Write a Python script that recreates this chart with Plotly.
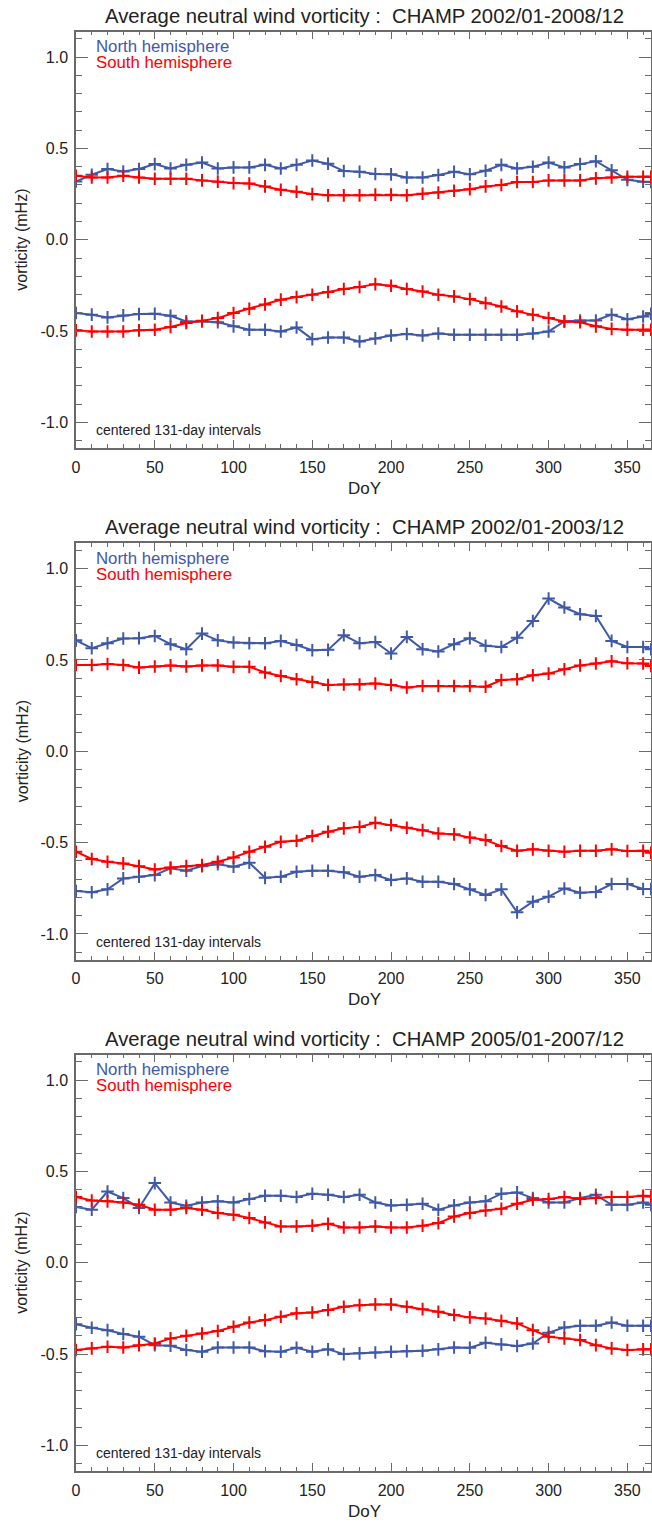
import plotly.graph_objects as go

# ---------------- data ----------------
doy = [0, 10, 20, 30, 40, 50, 60, 70, 80, 90, 100, 110, 120, 130, 140, 150, 160, 170, 180,
       190, 200, 210, 220, 230, 240, 250, 260, 270, 280, 290, 300, 310, 320, 330, 340, 350, 360, 365]

titles = ["Average neutral wind vorticity :  CHAMP 2002/01-2008/12",
          "Average neutral wind vorticity :  CHAMP 2002/01-2003/12",
          "Average neutral wind vorticity :  CHAMP 2005/01-2007/12"]

# Panel 1 (2002/01-2008/12)
p1_north_pos = [0.319, 0.356, 0.387, 0.374, 0.387, 0.414, 0.390, 0.410, 0.423, 0.390, 0.396, 0.396, 0.410,
                0.390, 0.410, 0.434, 0.416, 0.376, 0.372, 0.360, 0.358, 0.341, 0.341, 0.354, 0.372, 0.358,
                0.378, 0.410, 0.390, 0.400, 0.423, 0.396, 0.414, 0.430, 0.380, 0.328, 0.318, 0.316]
p1_south_pos = [0.350, 0.341, 0.341, 0.350, 0.341, 0.334, 0.334, 0.334, 0.325, 0.318, 0.310, 0.308, 0.292,
                0.274, 0.263, 0.250, 0.243, 0.243, 0.243, 0.247, 0.247, 0.243, 0.252, 0.258, 0.268, 0.277,
                0.292, 0.300, 0.316, 0.316, 0.325, 0.325, 0.325, 0.336, 0.341, 0.345, 0.345, 0.345]
p1_north_neg = [-0.401, -0.410, -0.425, -0.414, -0.407, -0.405, -0.416, -0.447, -0.447, -0.452, -0.474,
                -0.493, -0.493, -0.502, -0.480, -0.544, -0.535, -0.535, -0.557, -0.540, -0.524, -0.516,
                -0.524, -0.513, -0.520, -0.520, -0.520, -0.520, -0.520, -0.513, -0.502, -0.447, -0.442,
                -0.442, -0.410, -0.435, -0.420, -0.405]
p1_south_neg = [-0.496, -0.502, -0.502, -0.502, -0.496, -0.493, -0.478, -0.456, -0.443, -0.429, -0.401,
                -0.378, -0.354, -0.328, -0.314, -0.301, -0.286, -0.270, -0.259, -0.243, -0.252, -0.270,
                -0.283, -0.301, -0.310, -0.325, -0.347, -0.365, -0.392, -0.410, -0.429, -0.447, -0.452,
                -0.474, -0.488, -0.493, -0.493, -0.493]

# Panel 2 (2002/01-2003/12)
p2_north_pos = [0.607, 0.564, 0.591, 0.617, 0.619, 0.631, 0.586, 0.558, 0.644, 0.607, 0.595, 0.591, 0.591,
                0.604, 0.582, 0.553, 0.555, 0.635, 0.591, 0.598, 0.535, 0.626, 0.558, 0.546, 0.586, 0.619,
                0.577, 0.571, 0.622, 0.713, 0.836, 0.787, 0.750, 0.741, 0.604, 0.571, 0.571, 0.558]
p2_south_pos = [0.472, 0.472, 0.478, 0.472, 0.458, 0.464, 0.470, 0.464, 0.470, 0.470, 0.462, 0.462, 0.431,
                0.412, 0.394, 0.379, 0.363, 0.365, 0.365, 0.371, 0.363, 0.349, 0.357, 0.357, 0.357, 0.357,
                0.353, 0.390, 0.394, 0.416, 0.425, 0.449, 0.470, 0.480, 0.493, 0.482, 0.480, 0.467]
p2_north_neg = [-0.765, -0.772, -0.756, -0.696, -0.687, -0.678, -0.641, -0.654, -0.629, -0.618, -0.632,
                -0.610, -0.693, -0.687, -0.660, -0.654, -0.654, -0.663, -0.687, -0.678, -0.705, -0.696,
                -0.714, -0.714, -0.727, -0.756, -0.787, -0.756, -0.882, -0.824, -0.796, -0.751, -0.775,
                -0.770, -0.727, -0.727, -0.754, -0.754]
p2_south_neg = [-0.550, -0.590, -0.605, -0.614, -0.629, -0.647, -0.636, -0.629, -0.623, -0.605, -0.581,
                -0.550, -0.523, -0.496, -0.490, -0.464, -0.441, -0.422, -0.414, -0.392, -0.404, -0.419,
                -0.432, -0.450, -0.455, -0.472, -0.486, -0.519, -0.545, -0.537, -0.545, -0.550, -0.545,
                -0.545, -0.537, -0.546, -0.545, -0.556]

# Panel 3 (2005/01-2007/12)
p3_north_pos = [0.305, 0.290, 0.390, 0.354, 0.300, 0.436, 0.330, 0.312, 0.330, 0.336, 0.330, 0.349, 0.367,
                0.367, 0.360, 0.378, 0.372, 0.360, 0.372, 0.330, 0.314, 0.317, 0.323, 0.290, 0.314, 0.330,
                0.336, 0.378, 0.385, 0.354, 0.330, 0.330, 0.354, 0.372, 0.317, 0.317, 0.330, 0.317]
p3_south_pos = [0.360, 0.341, 0.336, 0.330, 0.317, 0.290, 0.290, 0.300, 0.290, 0.272, 0.263, 0.245, 0.221,
                0.199, 0.199, 0.203, 0.213, 0.193, 0.193, 0.199, 0.193, 0.193, 0.203, 0.217, 0.253, 0.272,
                0.286, 0.295, 0.323, 0.345, 0.349, 0.360, 0.349, 0.354, 0.360, 0.360, 0.367, 0.363]
p3_north_neg = [-0.336, -0.356, -0.369, -0.390, -0.405, -0.451, -0.454, -0.478, -0.487, -0.464, -0.464,
                -0.464, -0.484, -0.487, -0.465, -0.487, -0.474, -0.500, -0.496, -0.491, -0.487, -0.484,
                -0.482, -0.474, -0.464, -0.465, -0.438, -0.447, -0.456, -0.442, -0.383, -0.354, -0.345,
                -0.345, -0.327, -0.345, -0.345, -0.345]
p3_south_neg = [-0.478, -0.469, -0.460, -0.464, -0.451, -0.442, -0.414, -0.400, -0.387, -0.374, -0.350,
                -0.327, -0.314, -0.296, -0.277, -0.272, -0.259, -0.241, -0.232, -0.228, -0.228, -0.241,
                -0.254, -0.268, -0.286, -0.299, -0.305, -0.318, -0.332, -0.369, -0.405, -0.414, -0.423,
                -0.451, -0.469, -0.478, -0.474, -0.474]

panels = [
    (p1_north_pos, p1_north_neg, p1_south_pos, p1_south_neg),
    (p2_north_pos, p2_north_neg, p2_south_pos, p2_south_neg),
    (p3_north_pos, p3_north_neg, p3_south_pos, p3_south_neg),
]

x_ticks = [0, 50, 100, 150, 200, 250, 300, 350]
y_ticks = [-1.0, -0.5, 0.0, 0.5, 1.0]
y_tick_text = ["-1.0", "-0.5", "0.0", "0.5", "1.0"]

# ---------------- style ----------------
BLUE = "#3F59A8"
RED = "#FF0000"
AXC = "#6a6a6a"
TXT = "#222222"
FONT = "Liberation Sans, Arial, sans-serif"
H = 1522
W = 652
ML, MR = 76, 1
# panel pixel extents (top, bottom)
extents = [(31.5, 448.0), (543.0, 959.5), (1054.5, 1471.0)]

fig = go.Figure()
annotations = []

def py(px):
    return 1 - px / H

def pxx(px):
    return (px - ML) / (W - ML - MR)

for i, (series, (top, bot)) in enumerate(zip(panels, extents)):
    n = "" if i == 0 else str(i + 1)
    npos, nneg, spos, sneg = series
    for yvals, col in [(npos, BLUE), (nneg, BLUE), (spos, RED), (sneg, RED)]:
        fig.add_trace(go.Scatter(
            x=doy, y=yvals, mode="lines+markers", xaxis="x" + n, yaxis="y" + n,
            line=dict(color=col, width=2),
            marker=dict(symbol="cross-thin", size=9, line=dict(color=col, width=2), color=col),
            showlegend=False, hoverinfo="skip"))
    fig.layout["xaxis" + n] = dict(
        domain=[0, 1], range=[0, 365], anchor="y" + n,
        tickvals=x_ticks, ticks="inside", ticklen=8, tickwidth=1.3, tickcolor=AXC,
        showline=True, linecolor=AXC, linewidth=1.5, mirror="ticks",
        showgrid=False, zeroline=False,
        minor=dict(dtick=10, tick0=0, ticks="inside", ticklen=4, tickwidth=1.3, tickcolor=AXC, showgrid=False),
        tickfont=dict(family=FONT, size=16, color=TXT), ticklabelstandoff=4)
    fig.layout["yaxis" + n] = dict(
        domain=[py(bot), py(top)], range=[-1.14, 1.14], anchor="x" + n,
        tickvals=y_ticks, ticktext=y_tick_text, ticks="inside", ticklen=12, tickwidth=1.3, tickcolor=AXC,
        showline=True, linecolor=AXC, linewidth=1.5, mirror="ticks",
        showgrid=False, zeroline=False,
        minor=dict(dtick=0.1, tick0=0, ticks="inside", ticklen=6, tickwidth=1.3, tickcolor=AXC, showgrid=False),
        tickfont=dict(family=FONT, size=16, color=TXT), ticklabelstandoff=3)

    annotations += [
        dict(text=titles[i], xref="paper", yref="paper", x=pxx(364), y=py(top - 16),
             xanchor="center", yanchor="middle", showarrow=False,
             font=dict(family=FONT, size=20.3, color=TXT)),
        dict(text="North hemisphere", xref="paper", yref="paper", x=pxx(94), y=py(top + 15),
             xanchor="left", yanchor="middle", showarrow=False,
             font=dict(family=FONT, size=16.8, color=BLUE)),
        dict(text="South hemisphere", xref="paper", yref="paper", x=pxx(94), y=py(top + 31),
             xanchor="left", yanchor="middle", showarrow=False,
             font=dict(family=FONT, size=16.8, color=RED)),
        dict(text="centered 131-day intervals", xref="paper", yref="paper", x=pxx(94), y=py(bot - 18),
             xanchor="left", yanchor="middle", showarrow=False,
             font=dict(family=FONT, size=14, color=TXT)),
        dict(text="DoY", xref="paper", yref="paper", x=pxx(364), y=py(bot + 40),
             xanchor="center", yanchor="middle", showarrow=False,
             font=dict(family=FONT, size=17, color=TXT)),
        dict(text="vorticity (mHz)", xref="paper", yref="paper", x=pxx(22), y=py((top + bot) / 2),
             xanchor="center", yanchor="middle", showarrow=False, textangle=-90,
             font=dict(family=FONT, size=16, color=TXT)),
    ]

fig.update_layout(
    width=W, height=H, margin=dict(l=ML, r=MR, t=0, b=0),
    paper_bgcolor="white", plot_bgcolor="white",
    annotations=annotations,
    font=dict(family=FONT, color=TXT))

fig.write_html("out.html")
